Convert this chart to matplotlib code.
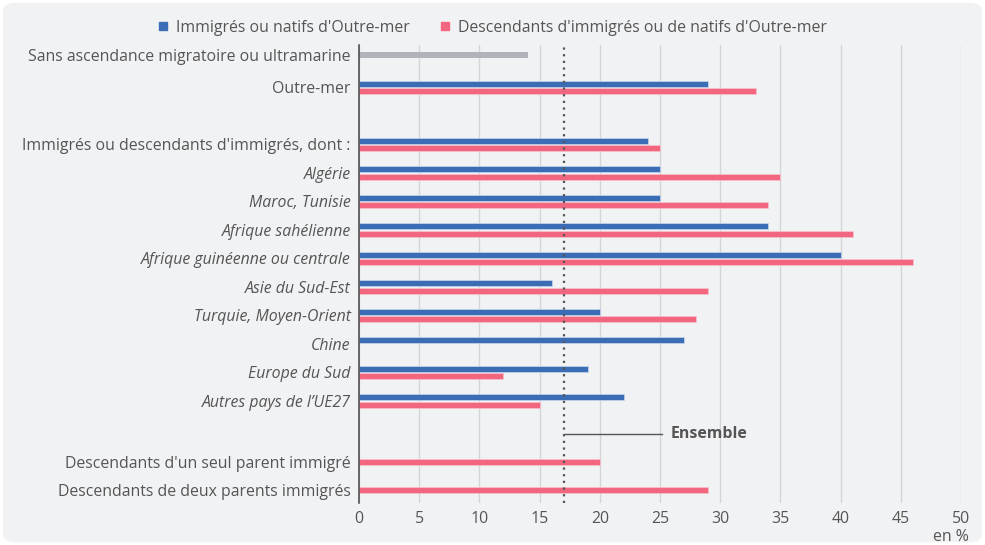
import matplotlib
matplotlib.use("Agg")
import matplotlib.pyplot as plt
import numpy as np
from matplotlib.patches import FancyBboxPatch
from matplotlib.lines import Line2D

categories = [
    "Sans ascendance migratoire ou ultramarine",
    "Outre-mer",
    "",
    "Immigrés ou descendants d'immigrés, dont :",
    "Algérie",
    "Maroc, Tunisie",
    "Afrique sahélienne",
    "Afrique guinéenne ou centrale",
    "Asie du Sud-Est",
    "Turquie, Moyen-Orient",
    "Chine",
    "Europe du Sud",
    "Autres pays de l\u2019UE27",
    "",
    "Descendants d'un seul parent immigré",
    "Descendants de deux parents immigrés",
]
italic_rows = [4, 5, 6, 7, 8, 9, 10, 11, 12]
immigres = [np.nan, 29, np.nan, 24, 25, 25, 34, 40, 16, 20, 27, 19, 22, np.nan, np.nan, np.nan]
descendants = [np.nan, 33, np.nan, 25, 35, 34, 41, 46, 29, 28, np.nan, 12, 15, np.nan, 20, 29]
sans_ascendance = [14, np.nan, np.nan, np.nan, np.nan, np.nan, np.nan, np.nan, np.nan, np.nan, np.nan, np.nan, np.nan, np.nan, np.nan, np.nan]
ensemble = 17
xticks = [0, 5, 10, 15, 20, 25, 30, 35, 40, 45, 50]
legend_labels = ["Immigrés ou natifs d'Outre-mer", "Descendants d'immigrés ou de natifs d'Outre-mer"]

BLUE = "#3a6db5"
PINK = "#f2667f"
GREY = "#b0b4ba"
TXT = "#555555"
BG = "#f1f2f4"

plt.rcParams['font.family'] = ['Open Sans', 'DejaVu Sans']

fig = plt.figure(figsize=(9.85, 5.45), dpi=100)
fig.patch.set_facecolor("white")
card = FancyBboxPatch((0.003, 0.005), 0.994, 0.99, boxstyle="round,pad=0,rounding_size=0.014",
                      transform=fig.transFigure, facecolor=BG, edgecolor="none", zorder=-10)
fig.patches.append(card)

ax = fig.add_axes([359/985, 1-503/545, (961-359)/985, (503-45)/545])
ax.set_facecolor("none")

y = np.arange(len(categories), dtype=float)
h = 0.21
off = 0.13
imm = np.array(immigres, dtype=float)
des = np.array(descendants, dtype=float)
sa = np.array(sans_ascendance, dtype=float)

m = ~np.isnan(imm)
ax.barh(y[m] - off, imm[m], height=h, color=BLUE, edgecolor="#c9d6ec", linewidth=0.5, zorder=3)
m = ~np.isnan(des)
ax.barh(y[m] + off, des[m], height=h, color=PINK, edgecolor="#f7c3cd", linewidth=0.5, zorder=3)
m = ~np.isnan(sa)
ax.barh(y[m] - off, sa[m], height=h, color=GREY, zorder=3)

# label positions: single-series rows aligned with their bar
label_y = y.copy()
for i in range(len(categories)):
    has_b = not np.isnan(imm[i]) or not np.isnan(sa[i])
    has_p = not np.isnan(des[i])
    if has_b and not has_p and not np.isnan(sa[i]):
        label_y[i] = y[i] - off
    elif has_p and not has_b:
        label_y[i] = y[i] + off

ax.set_xlim(0, 50)
ax.set_ylim(15.58, -0.49)
ax.set_xticks(xticks)
ax.set_xticklabels([str(t) for t in xticks])
ax.set_yticks(label_y)
ax.set_yticklabels(categories)
for i, lab in enumerate(ax.get_yticklabels()):
    if i in italic_rows:
        lab.set_style("italic")
ax.tick_params(axis="both", length=0, labelsize=11.4, labelcolor=TXT)
ax.tick_params(axis="y", pad=6)
ax.tick_params(axis="x", pad=6)
ax.grid(axis="x", color="#d3d5d9", linewidth=1, zorder=0)
for s in ["top", "right", "bottom"]:
    ax.spines[s].set_visible(False)
ax.spines["left"].set_color("#444444")
ax.spines["left"].set_linewidth(1.1)
ax.spines["left"].set_zorder(5)

ax.axvline(ensemble, color="#555555", linestyle=(0, (1, 2)), linewidth=1.6, zorder=4)
ax.plot([ensemble, 25.2], [13.15, 13.15], color="#555555", linewidth=1, zorder=4)
ax.text(25.9, 13.15, "Ensemble", fontsize=11.4, fontweight="bold", color=TXT, va="center", ha="left")

fig.text(969/985, 1-537/545, "en %", fontsize=11.4, color=TXT, ha="right", va="center")

handles = [Line2D([0], [0], marker="s", linestyle="none", markersize=6, markerfacecolor=BLUE, markeredgecolor=BLUE),
           Line2D([0], [0], marker="s", linestyle="none", markersize=6, markerfacecolor=PINK, markeredgecolor=PINK)]
leg = fig.legend(handles, legend_labels, loc="center", bbox_to_anchor=(491.5/985, 1-27.5/545), ncol=2,
                 frameon=False, fontsize=11.4, handlelength=0.8, handletextpad=0.4, columnspacing=1.85)
for t in leg.get_texts():
    t.set_color(TXT)

fig.savefig("out.png", dpi=100, facecolor=fig.get_facecolor())
